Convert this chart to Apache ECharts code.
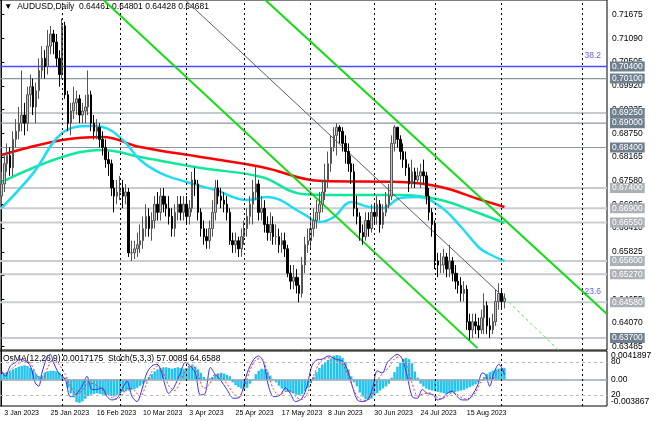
<!DOCTYPE html>
<html><head><meta charset="utf-8">
<script src="https://cdn.jsdelivr.net/npm/echarts@6/dist/echarts.min.js"></script>
<style>html,body{margin:0;padding:0;background:#fff}#c{width:670px;height:421px}</style>
</head><body><div id="c"></div>
<script>
// ---- DATA ----
const closes = [
.6750,.6800,.6820,.6790,.6860,.6880,.6900,.6920,.6900,.6970,
.6990,.6940,.6980,.7030,.7060,.7040,.7090,.7120,.7100,.7060,
.7020,.7140,.6970,.6900,.6930,.6950,.6960,.6920,.6930,.6940,.6970,
.6900,.6880,.6890,.6860,.6840,.6810,.6800,.6740,.6720,.6730,
.6740,.6720,.6730,.6580,.6580,.6590,.6600,.6610,.6640,.6670,
.6640,.6660,.6700,.6680,.6720,.6700,.6690,.6670,.6640,.6680,.6700,
.6680,.6700,.6670,.6690,.6760,.6750,.6680,.6640,.6620,.6610,
.6640,.6680,.6740,.6720,.6710,.6700,.6680,.6610,.6600,.6610,
.6590,.6620,.6640,.6670,.6700,.6730,.6750,.6680,.6690,.6650,.6630,
.6650,.6620,.6620,.6600,.6610,.6590,.6530,.6510,.6520,.6500,
.6480,.6550,.6600,.6610,.6640,.6660,.6680,.6700,.6730,.6760,
.6800,.6840,.6870,.6890,.6880,.6850,.6830,.6800,.6780,.6690,.6670,
.6630,.6620,.6660,.6640,.6680,.6670,.6700,.6650,.6680,.6700,
.6720,.6850,.6890,.6860,.6830,.6810,.6790,.6750,.6780,.6760,.6770,
.6780,.6770,.6720,.6680,.6650,.6560,.6550,.6550,.6570,.6540,
.6560,.6530,.6510,.6500,.6480,.6490,.6410,.6390,.6410,.6400,
.6390,.6420,.6450,.6400,.6390,.6410,.6460,.6480,.6460,.6468];
const highs = [
.678,.682,.685,.684,.688,.691,.694,.703,.695,.699,
.702,.701,.700,.706,.709,.708,.713,.714,.713,.712,
.708,.7158,.715,.698,.695,.699,.698,.697,.695,.697,.703,
.698,.692,.691,.690,.688,.686,.683,.681,.676,.676,
.677,.676,.675,.674,.661,.661,.663,.665,.667,.670,
.669,.668,.672,.673,.674,.674,.672,.672,.669,.670,.672,
.672,.672,.672,.671,.678,.679,.676,.669,.666,.664,
.666,.671,.676,.676,.674,.673,.672,.669,.663,.663,
.662,.664,.666,.669,.672,.676,.6795,.676,.672,.671,.667,
.668,.667,.665,.664,.663,.663,.660,.655,.655,.654,
.652,.657,.662,.664,.667,.669,.671,.673,.676,.680,
.683,.687,.689,.6900,.6895,.689,.687,.685,.682,.680,.672,
.668,.665,.668,.668,.670,.670,.672,.671,.670,.673,
.675,.687,.6895,.689,.687,.685,.683,.680,.681,.679,.679,
.680,.681,.678,.674,.669,.666,.658,.658,.659,.658,
.660,.657,.655,.653,.652,.651,.650,.643,.643,.643,
.642,.644,.648,.646,.642,.643,.649,.6505,.649,.648];
const lows = [
.670,.673,.678,.677,.677,.684,.686,.688,.687,.688,
.694,.692,.690,.696,.701,.701,.702,.707,.707,.704,
.699,.701,.696,.688,.687,.691,.692,.690,.690,.690,.692,
.688,.686,.686,.684,.682,.679,.677,.672,.668,.670,
.671,.669,.670,.657,.656,.6565,.657,.658,.659,.662,
.662,.661,.664,.666,.666,.668,.667,.665,.662,.662,.666,
.666,.666,.665,.665,.668,.672,.666,.662,.660,.659,
.659,.662,.666,.670,.669,.668,.666,.660,.658,.658,
.657,.657,.660,.662,.665,.665,.671,.666,.666,.663,.661,
.661,.660,.660,.658,.658,.657,.652,.649,.649,.648,
.6458,.647,.653,.658,.659,.662,.664,.666,.668,.671,
.674,.678,.683,.682,.685,.683,.680,.678,.675,.667,.665,
.661,.660,.661,.662,.663,.665,.665,.663,.664,.667,
.669,.671,.683,.684,.681,.679,.677,.673,.674,.674,.675,
.674,.675,.670,.666,.662,.654,.652,.653,.653,.652,
.652,.651,.649,.648,.646,.646,.639,.6365,.637,.638,
.637,.638,.638,.638,.637,.638,.640,.644,.644,.6443];
const firstOpen = 0.6720;

const ma200 = [[0,.68214],[21,.68584],[35,.68658],[48,.68411],[69,.68164],[90,.67918],[111,.67572],[138,.67548],[152,.67424],[165,.67128],[174,.66931]];
const ma100 = [[0,.67548],[21,.68164],[35,.68337],[48,.68164],[69,.67893],[90,.67671],[104,.67252],[115,.67227],[138,.67227],[152,.67104],[165,.66783],[174,.66537]];
const ma50 = [[0,.66904],[11,.67768],[21,.68755],[31,.68928],[35,.68904],[42,.68584],[48,.68090],[55,.67770],[64,.67548],[74,.67350],[85,.67104],[92,.67178],[104,.66783],[110,.66561],[115,.66684],[121,.67055],[127,.66931],[132,.66906],[138,.67153],[144,.67178],[152,.66931],[159,.66438],[165,.65945],[168,.65797],[174,.65600]];

const chanLower = [[35.3,.72038],[164.7,.6345]];
const chanUpper = [[91.3,.72038],[209.4,.6430]];
const chanMid = [[63.6,.72038],[174,.6469]];
const chanMidExt = [[174,.6469],[192.7,.6340]];

const levelsDark = [.7010,.6925,.6900,.6840,.6370];
const levelsLight = [.6740,.6690,.6655,.6560,.6527,.6458];
const levelBlue = .7040;
const fibLabels = [[.7040,'38.2'],[.6458,'23.6']];
const priceTicks = [.71675,.71090,.70505,.69920,.69335,.68750,.68165,.67580,.66995,.66410,.65825,.65240,.64655,.64070,.63485];

const osma = [
.0008,.0010,.0011,.0012,.0015,.0017,.0019,.0020,.0021,.0020,
.0017,.0014,.0008,.0005,.0006,.0010,.0012,.0013,.0013,.0012,.0010,
.0005,.0003,-.0012,-.0020,-.0026,-.0033,-.0034,-.0032,-.0028,
-.0024,-.0022,-.0021,-.0020,-.0021,-.0022,-.0023,-.0022,
-.0024,-.0025,-.0023,-.0020,-.0018,-.0017,
-.0016,-.0015,-.0014,-.0012,-.0009,-.0006,-.0003,
.0004,.0008,.0012,.0015,
.0017,.0018,.0018,.0017,.0016,.0017,.0018,.0017,.0016,.0017,
.0020,.0021,.0019,.0015,.0010,
.0004,-.0001,.0002,.0004,
.0007,.0009,.0010,.0009,.0007,.0005,
-.0004,-.0008,-.0011,-.0013,-.0014,-.0012,
-.0006,.0001,.0008,.0013,.0016,.0015,
.0012,.0006,.0001,-.0004,
-.0009,-.0013,-.0016,-.0018,-.0019,-.0020,-.0022,-.0023,-.0021,-.0017,-.0012,
-.0005,.0004,.0011,.0017,.0022,.0026,.0029,.0031,
.0035,.0036,.0035,.0032,.0026,.0015,.0005,-.0004,
-.0010,-.0019,-.0025,-.0029,-.0030,-.0028,
-.0024,-.0020,-.0016,-.0013,-.0010,-.0006,
.0003,.0011,.0019,.0025,.0030,.0032,.0030,.0024,
.0012,.0003,
-.0006,-.0010,-.0013,-.0015,-.0016,-.0017,-.0018,-.0019,-.0020,-.0021,-.0020,-.0019,-.0018,-.0017,-.0016,-.0015,-.0013,-.0011,-.0009,-.0007,
-.0004,-.0001,
.0004,.0008,.0011,.0013,.0015,.0016,.0017,.0017172];

const stochK = [[0,64],[1.3,54],[3.1,73],[4.8,79],[6.5,85],[8.3,82],[10,73],[11.7,42],[12.9,36],[14,60],[15.7,88],[16.9,94],[18,79],[19.8,60],[22.1,48],[23.8,17],[25.6,20],[27.9,36],[29.6,54],[31.3,30],[33,30],[34.8,33],[36.5,17],[38.2,11],[40,14],[41.7,30],[43.4,45],[45.2,17],[46.9,8],[48.6,30],[50.3,60],[52.1,73],[53.8,76],[55,67],[56.7,36],[57.8,23],[59.6,33],[61.9,60],[63.6,79],[65.3,73],[67.1,60],[68.8,20],[70.5,23],[72.3,70],[74,57],[75.7,48],[78,30],[80.3,14],[82.6,17],[85,60],[87.3,85],[89,91],[90.7,79],[92.4,36],[94.2,17],[96.5,20],[98.2,33],[99.9,23],[101.7,8],[104,14],[105.7,36],[107.4,73],[109.2,84],[110.9,85],[113.2,91],[115.6,85],[117.9,82],[119.6,67],[121.4,36],[123.1,11],[124.8,8],[126.6,11],[128.3,30],[130,64],[131.7,60],[133.5,79],[135.2,88],[136.9,94],[138.7,85],[140.4,54],[142.1,17],[143.9,14],[145.6,30],[147.3,23],[149.4,20],[150.8,11],[152.5,14],[154.2,23],[156,27],[157.7,17],[159.4,11],[161.2,11],[162.9,20],[164.6,36],[166.4,60],[167.5,57],[168.9,36],[170.4,60],[172.1,76],[173.3,67],[174,57]];
const stochD = [[0,60],[2,60],[4,70],[6,78],[8,82],[10,78],[12,58],[14,45],[16,70],[18,86],[20,75],[22,58],[24,35],[26,22],[28,28],[30,42],[32,40],[34,33],[36,25],[38,16],[40,13],[42,22],[44,33],[46,28],[48,17],[50,38],[52,62],[54,73],[56,60],[58,36],[60,28],[62,45],[64,68],[66,75],[68,58],[70,32],[72,40],[74,58],[76,55],[78,40],[80,25],[82,16],[84,35],[86,65],[88,84],[90,86],[92,62],[94,32],[96,20],[98,26],[100,28],[102,16],[104,12],[106,25],[108,55],[110,78],[112,86],[114,88],[116,84],[118,76],[120,55],[122,28],[124,12],[126,10],[128,18],[130,45],[132,60],[134,70],[136,86],[138,90],[140,76],[142,42],[144,18],[146,22],[148,24],[150,18],[152,13],[154,17],[156,24],[158,20],[160,13],[162,14],[164,25],[166,45],[168,52],[170,50],[172,64],[174,64.66]];

const shownDates = ['3 Jan 2023','25 Jan 2023','16 Feb 2023','10 Mar 2023','3 Apr 2023','25 Apr 2023','17 May 2023','8 Jun 2023','30 Jun 2023','24 Jul 2023','15 Aug 2023'];
const separators = [21,41,64,84,107,129,150,173,201];
const N = 210;

// ---- build ----
const FONT='Liberation Sans';
const months=['Jan','Feb','Mar','Apr','May','Jun','Jul','Aug','Sep','Oct','Nov','Dec'];
const cats=[]; let d=new Date(Date.UTC(2023,0,2));
while(cats.length<N){const wd=d.getUTCDay(); if(wd!==0&&wd!==6) cats.push(d.getUTCDate()+' '+months[d.getUTCMonth()]+' '+d.getUTCFullYear()); d.setUTCDate(d.getUTCDate()+1);}
const showSet=new Set(shownDates.map(s=>cats.indexOf(s)));
const candles=closes.map((c,i)=>[i===0?firstOpen:closes[i-1],c,lows[i],highs[i]]);
const L=-0.5, R=N-0.5;

const levelSeries=(v,color,bg,w)=>({type:'line',xAxisIndex:1,yAxisIndex:0,data:[[L,v],[R,v]],silent:true,z:2,
  showSymbol:false,symbol:'none',lineStyle:{color,width:w},
  endLabel:{show:true,distance:3,formatter:v.toFixed(5),backgroundColor:bg,color:'#fff',padding:[1,2,0,2],fontSize:8.5,fontFamily:FONT}});
const fibSeries=([v,t])=>({type:'scatter',xAxisIndex:1,yAxisIndex:0,data:[[R,v]],symbolSize:0,silent:true,z:6,
  label:{show:true,position:'insideBottomRight',offset:[-1,-1],formatter:t,color:'#3333ff',fontSize:8.5,fontFamily:FONT}});
const sepItems=separators.map(i=>({xAxis:i}));

const line=(data,color,w,extra)=>Object.assign({type:'line',xAxisIndex:1,yAxisIndex:0,data,showSymbol:false,symbol:'none',silent:true,lineStyle:{color,width:w},z:3},extra||{});

const chart=echarts.init(document.getElementById('c'),null,{renderer:'canvas'});
chart.setOption({
 animation:false,
 backgroundColor:'#fff',
 textStyle:{fontFamily:FONT},
 grid:[
  {left:0,right:63,top:0,height:350,show:true,borderColor:'#000',borderWidth:1},
  {left:0,right:63,top:351,height:55,show:true,borderColor:'#000',borderWidth:1}
 ],
 xAxis:[
  {type:'category',gridIndex:0,data:cats,show:false},
  {type:'value',gridIndex:0,min:L,max:R,show:false},
  {type:'category',gridIndex:1,data:cats,axisLine:{show:false},axisTick:{show:false},
   axisLabel:{interval:(i)=>showSet.has(i),showMinLabel:true,align:'left',margin:4,fontSize:7,color:'#000',hideOverlap:false,fontFamily:FONT}},
  {type:'value',gridIndex:1,min:L,max:R,show:false}
 ],
 yAxis:[
  {type:'value',gridIndex:0,position:'right',min:.63404,max:.72038,splitLine:{show:false},
   axisLine:{show:true,lineStyle:{color:'#000'}},
   axisTick:{show:true,length:3,customValues:priceTicks,lineStyle:{color:'#000'}},
   axisLabel:{customValues:priceTicks,formatter:v=>v.toFixed(5),fontSize:8.5,color:'#000',margin:5,fontFamily:FONT}},
  {type:'value',gridIndex:1,position:'right',min:-0.003867,max:0.0041897,splitLine:{show:false},
   axisLine:{show:true,lineStyle:{color:'#000'}},axisTick:{show:false},
   axisLabel:{customValues:[-0.003867,0,0.0041897],formatter:v=>v===0?'0.00':String(v),fontSize:8.5,color:'#000',margin:4,fontFamily:FONT,
     verticalAlignMaxLabel:'top',verticalAlignMinLabel:'bottom'}},
  {type:'value',gridIndex:1,position:'right',min:0,max:100,splitLine:{show:false},axisLine:{show:false},axisTick:{show:false},
   axisLabel:{customValues:[20,80],fontSize:8.5,color:'#000',margin:4,fontFamily:FONT}}
 ],
 graphic:[
  {type:'text',left:4,top:2,style:{text:'▼  AUDUSD,Daily  0.64461 0.64801 0.64428 0.64681',fontSize:8.5,fill:'#000',fontFamily:FONT}},
  {type:'text',left:3,top:354,style:{text:'OsMA(12,26,9) 0.0017175  Stoch(5,3,3) 57.0089 64.6588',fontSize:8.5,fill:'#000',fontFamily:FONT}}
 ],
 series:[
  levelSeries(levelBlue,'#4a4aff','#6f7f8e',1.5),
  ...levelsDark.map(v=>levelSeries(v,'#8a96a2','#6f7f8e',1.2)),
  ...levelsLight.map(v=>levelSeries(v,'#c9cdd1','#aab0b6',2)),
  ...fibLabels.map(fibSeries),
  {type:'candlestick',xAxisIndex:0,yAxisIndex:0,data:candles,barWidth:2,z:4,
   itemStyle:{color:'#c4c4c4',color0:'#000',borderColor:'#555',borderColor0:'#000',borderWidth:1},
   markLine:{symbol:'none',silent:true,animation:false,data:sepItems,label:{show:false},lineStyle:{color:'#000',type:[2,3],width:1}}},
  line(ma200,'#ff0000',2.5,{smooth:0.4}),
  line(ma100,'#11e89a',2.5,{smooth:0.4}),
  line(ma50,'#1fdcf5',2.5,{smooth:0.4}),
  line(chanLower,'#11dd11',2),
  line(chanUpper,'#11dd11',2),
  line(chanMid,'#556655',1),
  line(chanMidExt,'#55ee55',1,{lineStyle:{color:'#55ee55',width:1,type:[3,3]}}),
  {type:'bar',xAxisIndex:2,yAxisIndex:1,data:osma,barWidth:2.5,itemStyle:{color:'#20c4ee'},silent:true,
   markLine:{symbol:'none',silent:true,label:{show:false},data:[{yAxis:0,lineStyle:{color:'#9aa5b0',width:1.5,type:'solid'}},
     ...separators.map(i=>({xAxis:i,lineStyle:{color:'#000',type:[2,3],width:1}}))]}},
  {type:'line',xAxisIndex:3,yAxisIndex:2,data:stochK,showSymbol:false,symbol:'none',smooth:0.3,lineStyle:{color:'#3030ff',width:1},z:4,
   markLine:{symbol:'none',silent:true,data:[{yAxis:80},{yAxis:20}],lineStyle:{color:'#bbb',type:[3,3],width:1},label:{show:false}}},
  {type:'line',xAxisIndex:3,yAxisIndex:2,data:stochD,showSymbol:false,symbol:'none',smooth:0.3,lineStyle:{color:'#ff3030',width:1,type:[2,2]},z:4}
 ]
});
</script></body></html>
